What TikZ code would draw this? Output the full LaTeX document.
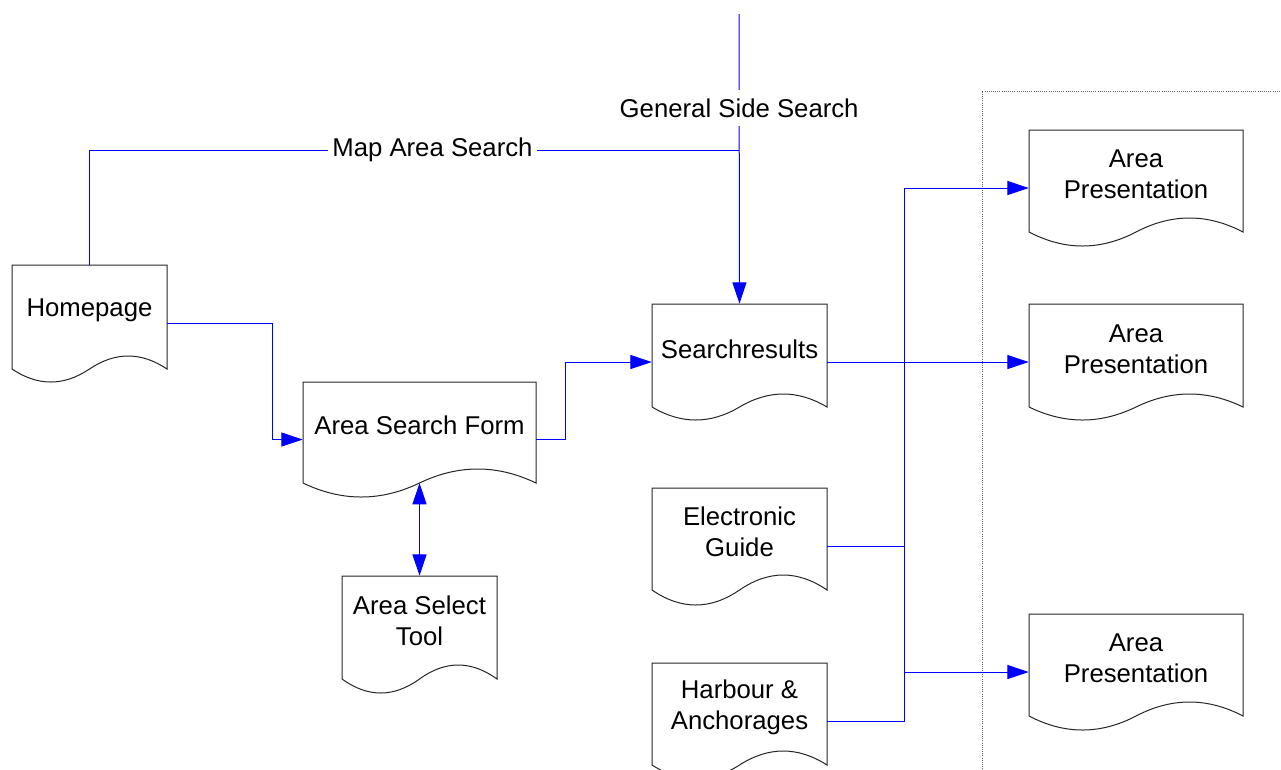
\documentclass[tikz,border=0pt]{standalone}
\usepackage{fontspec}
\setmainfont{Liberation Sans}
\usetikzlibrary{arrows.meta,calc}

\definecolor{flowblue}{RGB}{0,0,255}

% document shape: name, left, top, right, bottom of sides, wave amplitude, text
\newcommand{\docnode}[7]{%
  \pgfmathsetmacro{\dnX}{(#2+#4)/2}%
  \pgfmathsetmacro{\dnY}{(#3+#5+#6)/2}%
  \pgfmathsetmacro{\dnW}{#4-#2}%
  \pgfmathsetmacro{\dnH}{#5+#6-#3}%
  \pgfmathsetmacro{\dnK}{4/3*#6}%
  \node[docframe, minimum width=\dnW*0.75pt, minimum height=\dnH*0.75pt] (#1) at (\dnX,\dnY) {};
  \draw[docline] (#2,#5) -- (#2,#3) -- (#4,#3) -- (#4,#5)
     .. controls (#4-\dnW/6,#5-\dnK) and (#4-\dnW/3,#5-\dnK) .. (\dnX,#5)
     .. controls (#2+\dnW/3,#5+\dnK) and (#2+\dnW/6,#5+\dnK) .. (#2,#5);
  \coordinate (#1-mid) at (\dnX,#5);
  \node[doctext] at ([yshift=#6*0.75pt]#1.center) {#7};
}

\tikzset{
  docframe/.style={draw=none, inner sep=0pt, rectangle},
  docline/.style={draw=black!85, line width=0.75pt},
  doctext/.style={align=center, inner sep=0pt, font=\fontsize{19.3}{23.2}\selectfont},
  conn/.style={draw=flowblue, line width=0.75pt},
  tip/.style={-{Triangle[length=16pt,width=10.5pt]}},
  bitip/.style={{Triangle[length=16pt,width=10.5pt]}-{Triangle[length=16pt,width=10.5pt]}},
  flowlabel/.style={fill=white, inner xsep=3pt, inner ysep=6.5pt, font=\fontsize{19.3}{23.2}\selectfont},
  divider/.style={draw=black!60, line width=0.6pt, densely dotted}
}

\begin{document}
\begin{tikzpicture}[x=0.75pt, y=-0.75pt]
  \useasboundingbox (0,0) rectangle (1281,769);
  \fill[white] (0,0) rectangle (1281,769);

  % pages
  \docnode{hp}{12}{265}{167}{369}{13}{Homepage}
  \docnode{asf}{303}{382}{536}{483}{14}{Area Search Form}
  \docnode{ast}{342}{576}{497}{679}{14}{Area Select\\Tool}
  \docnode{sr}{652}{304}{827}{407}{13}{Searchresults}
  \docnode{eg}{652}{488}{827}{590}{15}{Electronic\\Guide}
  \docnode{ha}{652}{663}{827}{765}{14}{Harbour \&\\Anchorages}
  \docnode{apa}{1029}{130}{1243}{232}{14}{Area\\Presentation}
  \docnode{apb}{1029}{304}{1243}{407}{13}{Area\\Presentation}
  \docnode{apc}{1029}{614}{1243}{716}{14}{Area\\Presentation}

  % dotted frame of the presentation pages
  \draw[divider] (982,769) -- (982,91) -- (1281,91);

  % helper points
  \coordinate (gtop) at (739,14);
  \coordinate (gjoin) at (739,150);
  \coordinate (trunk) at (904,0);

  % search entries
  \draw[conn, tip] (gtop) -- node[flowlabel, pos=0.324] {General Side Search} (sr.north);
  \draw[conn] (hp.north) |- node[flowlabel, pos=0.764] {Map Area Search} (gjoin);

  % homepage to search form to results
  \draw[conn, tip] (hp.east) -| ($(asf.west)+(-30,0)$) -- (asf.west);
  \draw[conn, tip] (asf.east) -- ++(29,0) |- (sr.west);
  \draw[conn, bitip] (asf-mid) -- (ast.north);

  % results and guides to presentations
  \draw[conn, tip] (sr.east) -- (apb.west);
  \draw[conn, tip] (ha.east) -| (trunk |- apa.west) -- (apa.west);
  \draw[conn] (eg.east) -- (eg.east -| trunk);
  \draw[conn, tip] (trunk |- apc.west) -- (apc.west);
\end{tikzpicture}
\end{document}
